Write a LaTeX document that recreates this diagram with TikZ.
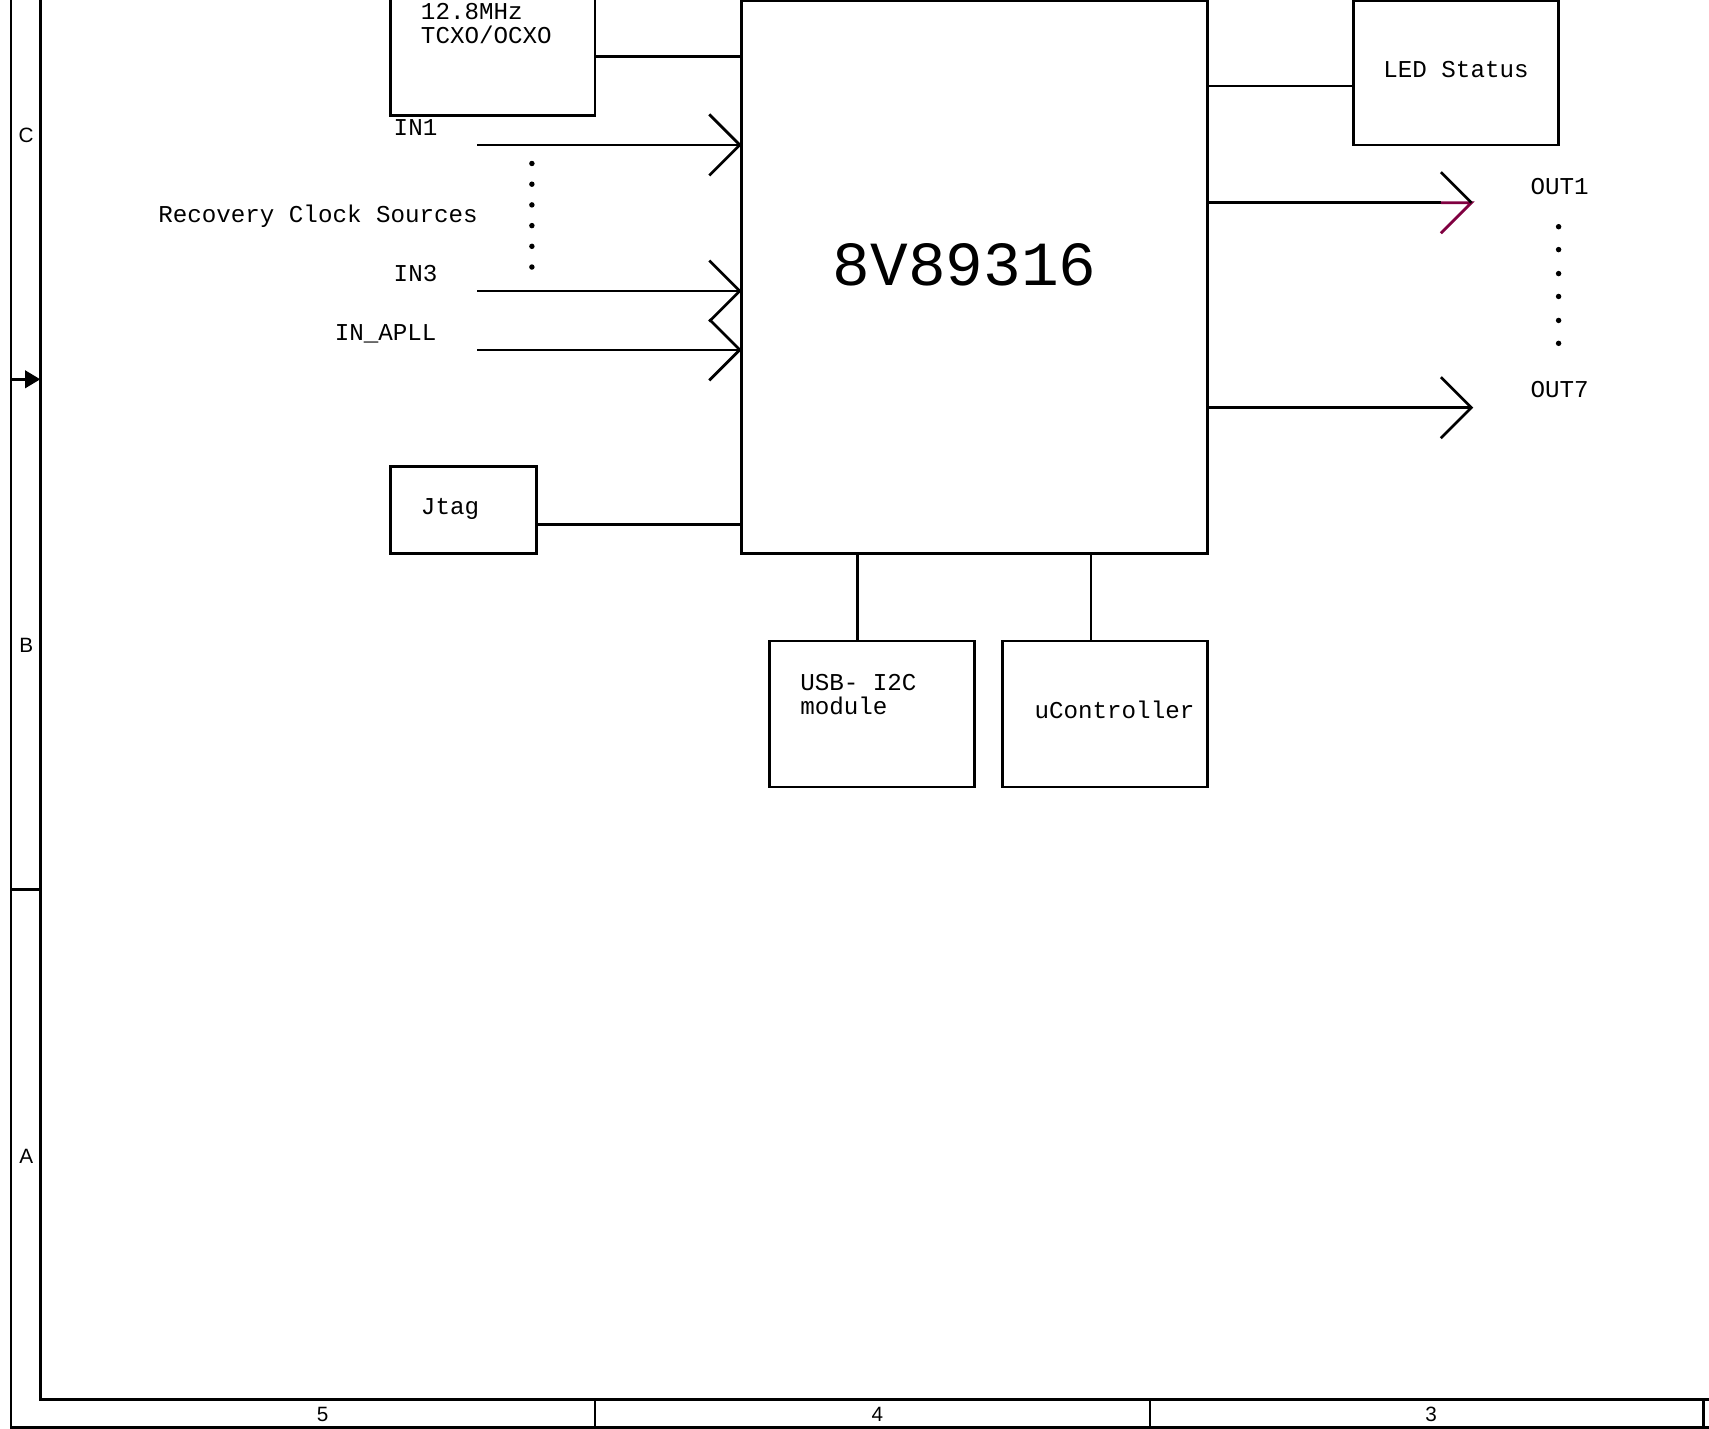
\documentclass[tikz,border=0pt]{standalone}
\usepackage{fontspec}
\setmainfont{Liberation Sans}
\newfontfamily\mono{Liberation Mono}
\usetikzlibrary{fit,arrows.meta}
\definecolor{maroonline}{RGB}{128,0,64}
\begin{document}
\begin{tikzpicture}[x=0.5pt,y=-0.5pt, line width=1.25pt,
  box/.style={draw, inner sep=0pt},
  lbl/.style={anchor=base west, inner sep=0pt, font=\mono\fontsize{11.1}{13}\selectfont},
  zone/.style={inner sep=0pt, font=\fontsize{9.5}{11}\selectfont},
  chev/.pic={\draw (-28,-28) -- (0,0) -- (-28,28);},
  dot/.style={fill=black}]
\useasboundingbox (0,0) rectangle (1568,1311);
% frame
\draw (10,0) -- (10,1310) -- (1568,1310);
\draw (37,0) -- (37,1284) -- (1568,1284);
\draw (546,1284) -- (546,1310);
\draw (1055,1284) -- (1055,1310);
\draw (1563,1284) -- (1563,1310);
\draw (10,816) -- (37,816);
\draw[-{Triangle[length=7pt,width=8pt]}] (10,348) -- (37,348);
\node[zone] (zc) at (24,124) {C};
\node[zone] (zb) at (24,592) {B};
\node[zone] (za) at (24,1061) {A};
\node[zone] (n5) at (296,1298) {5};
\node[zone] (n4) at (805,1298) {4};
\node[zone] (n3) at (1313,1298) {3};
% boxes
\node[box, fit={(680,1) (1108,508)}] (chip) {};
\node[box, fit={(358,-2) (546,106)}] (tcxo) {};
\node[box, fit={(1242,1) (1430,133)}] (led) {};
\node[box, fit={(358,428) (492,508)}] (jtag) {};
\node[box, fit={(706,588) (894,722)}] (usb) {};
\node[box, fit={(920,588) (1108,722)}] (uc) {};
% texts
\node[anchor=base west, inner sep=0pt, font=\mono\fontsize{28.8}{32}\selectfont] (chiplbl) at (763,262) {8V89316};
\node[lbl] (t1) at (385,17.5) {12.8MHz};
\node[lbl] (t2) at (385,39.5) {TCXO/OCXO};
\node[lbl] (tled) at (1268,71) {LED Status};
\node[lbl] (tjtag) at (385,472.5) {Jtag};
\node[lbl] (tusb1) at (733,633.5) {USB- I2C};
\node[lbl] (tusb2) at (733,655.5) {module};
\node[lbl] (tuc) at (948,659) {uController};
\node[lbl] (lin1) at (360,124) {IN1};
\node[lbl] (lin3) at (360,258) {IN3};
\node[lbl] (lapll) at (306,312) {IN\_APLL};
\node[lbl] (lrec) at (144,204) {Recovery Clock Sources};
\node[lbl] (lout1) at (1403,178) {OUT1};
\node[lbl] (lout7) at (1403,365) {OUT7};
% connectors to chip
\draw (tcxo.east) -- (tcxo.east -| chip.west);
\draw ([yshift=-6pt]led.west) -- ([yshift=-6pt]led.west -| chip.east);
\draw ([yshift=-6.5pt]jtag.east) -- ([yshift=-6.5pt]jtag.east -| chip.west);
\draw ([xshift=-6.5pt]usb.north) -- ([xshift=-6.5pt]usb.north |- chip.south);
\draw ([xshift=-6.5pt]uc.north) -- ([xshift=-6.5pt]uc.north |- chip.south);
% inputs
\coordinate (in1) at (438,133);
\coordinate (in3) at (438,267);
\coordinate (inapll) at (438,321);
\draw (in1) -- (in1 -| chip.west);
\draw (in3) -- (in3 -| chip.west);
\draw (inapll) -- (inapll -| chip.west);
\pic at (in1 -| chip.west) {chev};
\pic at (in3 -| chip.west) {chev};
\pic at (inapll -| chip.west) {chev};
% outputs
\coordinate (out1) at (1350,186);
\coordinate (out1m) at (1322,186);
\coordinate (out7) at (1350,374);
\draw (out1 -| chip.east) -- (out1m);
\draw[maroonline] (out1m) -- (out1) -- ++(-28,28);
\draw (out1) -- ++(-28,-28);
\draw (out7 -| chip.east) -- (out7);
\pic at (out7) {chev};
% dots
\foreach \y in {150,169,188,207,226,245} \fill[dot] (488,\y) circle (2.5);
\foreach \y in {208,229,251,272,294,315} \fill[dot] (1430,\y) circle (2.5);
\end{tikzpicture}
\end{document}
